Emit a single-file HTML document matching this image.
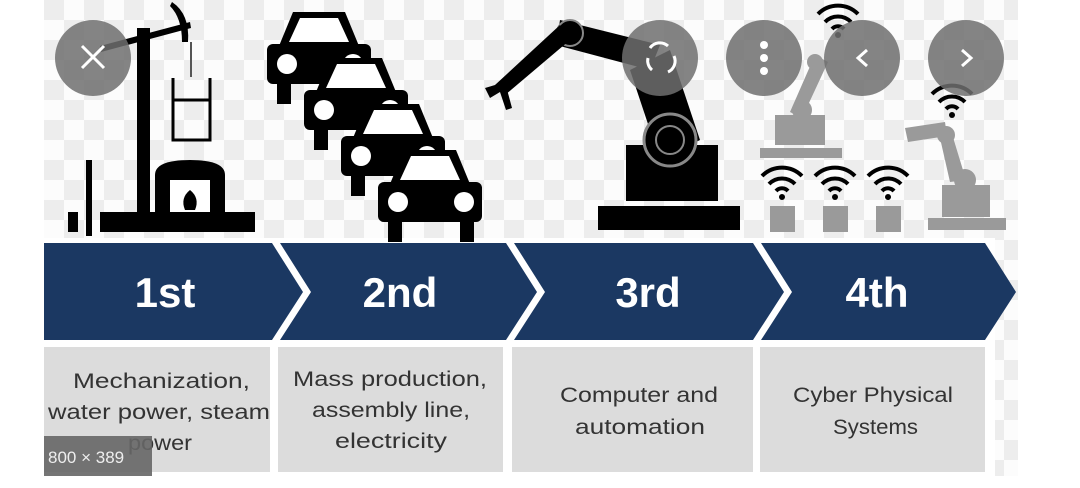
<!DOCTYPE html>
<html><head><meta charset="utf-8"><style>
html,body{margin:0;padding:0;background:#fff;width:1080px;height:488px;overflow:hidden}
svg{display:block}
text{font-family:"Liberation Sans",sans-serif}
</style></head><body>
<svg width="1080" height="488" viewBox="0 0 1080 488" xmlns="http://www.w3.org/2000/svg">
<defs>
<pattern id="chk" x="44" y="0" width="40" height="40" patternUnits="userSpaceOnUse">
<rect width="40" height="40" fill="#fcfcfc"/><rect width="20" height="20" fill="#ededed"/><rect x="20" y="20" width="20" height="20" fill="#ededed"/>
</pattern>
<g id="car">
<path d="M12 0 H64 L78 34 H-2 Z" fill="#000"/>
<path d="M19 6 H57 L68 30 H8 Z" fill="#fff"/>
<rect x="-14" y="32" width="104" height="40" rx="6" fill="#000"/>
<circle cx="6" cy="52" r="10" fill="#fff"/><circle cx="72" cy="52" r="10" fill="#fff"/>
<rect x="-4" y="70" width="14" height="22" fill="#000"/><rect x="68" y="70" width="14" height="22" fill="#000"/>
</g>
<g id="wifi" fill="none" stroke="#000" stroke-width="4">
<path d="M-20 -6 A28 28 0 0 1 20 -6"/><path d="M-13 2 A18 18 0 0 1 13 2"/><path d="M-6 9 A8 8 0 0 1 6 9"/>
<circle cx="0" cy="15" r="3" fill="#000" stroke="none"/>
</g>
</defs>
<rect x="44" y="0" width="974" height="238" fill="url(#chk)"/>
<rect x="995" y="238" width="23" height="238" fill="url(#chk)"/>

<!-- 1st icon -->
<rect x="68" y="212" width="10" height="20" fill="#000"/>
<rect x="86" y="160" width="6" height="76" fill="#000"/>
<rect x="100" y="212" width="155" height="20" fill="#000"/>
<rect x="137" y="28" width="13" height="186" fill="#000"/>
<path d="M100 46 L190 22 L191 28 L101 52 Z" fill="#000"/>
<path d="M172 2 Q190 14 188 42 L182 42 Q182 18 170 6 Z" fill="#000"/>
<rect x="190" y="42" width="2" height="35" fill="#555"/>
<path d="M173 78 V140 H210 V78 M173 100 H210" fill="none" stroke="#000" stroke-width="3"/>
<path d="M155 212 V175 Q155 160 190 160 Q225 160 225 175 V212 Z" fill="#000"/>
<rect x="170" y="180" width="40" height="32" fill="#fff"/>
<path d="M185 210 Q180 198 190 190 Q200 198 195 210 Z" fill="#000"/>

<!-- cars -->
<use href="#car" x="281" y="12"/>
<use href="#car" x="318" y="58"/>
<use href="#car" x="355" y="104"/>
<use href="#car" x="392" y="150"/>

<!-- 3rd robot -->
<rect x="598" y="206" width="142" height="24" fill="#000"/>
<rect x="626" y="145" width="92" height="56" fill="#000"/>
<path d="M630 70 L670 50 L700 140 L660 160 Z" fill="#000"/>
<circle cx="670" cy="140" r="26" fill="#000" stroke="#888" stroke-width="3"/>
<circle cx="670" cy="140" r="14" fill="#000" stroke="#888" stroke-width="2"/>
<path d="M560 20 L660 45 L650 70 L556 45 Z" fill="#000"/>
<circle cx="570" cy="33" r="13" fill="#000" stroke="#888" stroke-width="2"/>
<path d="M560 25 L495 85 L505 95 L570 40 Z" fill="#000"/>
<path d="M485 88 L505 82 L512 108 L506 110 L500 92 L490 98 Z" fill="#000"/>

<!-- gray robots -->
<g fill="#9a9a9a">
<rect x="760" y="148" width="82" height="10"/>
<rect x="775" y="115" width="50" height="30"/>
<path d="M790 112 L815 55 L828 62 L802 118 Z"/>
<circle cx="802" cy="110" r="10"/><circle cx="815" cy="62" r="8"/>
<rect x="770" y="206" width="25" height="26"/><rect x="823" y="206" width="25" height="26"/><rect x="876" y="206" width="25" height="26"/>
<rect x="928" y="218" width="78" height="12"/>
<rect x="942" y="185" width="48" height="32"/>
<path d="M950 182 L940 138 L952 134 L966 180 Z"/>
<path d="M905 128 L945 122 L947 136 L908 142 Z"/>
<circle cx="965" cy="180" r="11"/><circle cx="946" cy="135" r="9"/>
</g>
<use href="#wifi" x="782" y="182"/>
<use href="#wifi" x="835" y="182"/>
<use href="#wifi" x="888" y="182"/>
<use href="#wifi" x="838" y="20"/>
<use href="#wifi" x="952" y="100"/>

<!-- overlay circles -->
<g fill="#6e6e6e" fill-opacity="0.85">
<circle cx="93" cy="58" r="38"/><circle cx="660" cy="58" r="38"/><circle cx="764" cy="58" r="38"/><circle cx="862" cy="58" r="38"/><circle cx="966" cy="58" r="38"/>
</g>
<path d="M82 46 L104 68 M104 46 L82 68" stroke="#fff" stroke-width="3"/>
<g fill="#fff"><circle cx="764" cy="45" r="4"/><circle cx="764" cy="58" r="4"/><circle cx="764" cy="71" r="4"/></g>
<path d="M867 50 L858 58 L867 66" stroke="#fff" stroke-width="3" fill="none"/>
<path d="M962 50 L971 58 L962 66" stroke="#fff" stroke-width="3" fill="none"/>
<path d="M650 48 A12 12 0 0 1 668 46 M674 56 A12 12 0 0 1 668 72 M652 70 A12 12 0 0 1 648 58" stroke="#fff" stroke-width="3" fill="none"/>

<!-- chevrons -->
<g fill="#1b3862">
<path d="M44 243 H272 L303 292 L272 340 H44 Z"/>
<path d="M280 243 H506 L537 292 L506 340 H280 L311 292 Z"/>
<path d="M514 243 H753 L784 292 L753 340 H514 L545 292 Z"/>
<path d="M761 243 H985 L1016 292 L985 340 H761 L792 292 Z"/>
</g>
<g fill="#fff" font-weight="bold" font-size="42" text-anchor="middle">
<text x="165" y="307">1st</text><text x="400" y="307">2nd</text><text x="648" y="307">3rd</text><text x="877" y="307">4th</text>
</g>

<!-- boxes -->
<g fill="#dcdcdc">
<rect x="44" y="347" width="226" height="125"/><rect x="278" y="347" width="225" height="125"/><rect x="512" y="347" width="241" height="125"/><rect x="760" y="347" width="225" height="125"/>
</g>
<g fill="#333" font-size="21" lengthAdjust="spacingAndGlyphs">
<text x="73" y="388" textLength="177" lengthAdjust="spacingAndGlyphs">Mechanization,</text>
<text x="48" y="419" textLength="222" lengthAdjust="spacingAndGlyphs">water power, steam</text>
<text x="128" y="450" textLength="64" lengthAdjust="spacingAndGlyphs">power</text>
<text x="293" y="386" textLength="194" lengthAdjust="spacingAndGlyphs">Mass production,</text>
<text x="312" y="417" textLength="158" lengthAdjust="spacingAndGlyphs">assembly line,</text>
<text x="335" y="448" textLength="112" lengthAdjust="spacingAndGlyphs">electricity</text>
<text x="560" y="402" textLength="158" lengthAdjust="spacingAndGlyphs">Computer and</text>
<text x="575" y="434" textLength="130" lengthAdjust="spacingAndGlyphs">automation</text>
<text x="793" y="402" textLength="160" lengthAdjust="spacingAndGlyphs">Cyber Physical</text>
<text x="833" y="434" textLength="85" lengthAdjust="spacingAndGlyphs">Systems</text>
</g>
<rect x="44" y="436" width="108" height="40" fill="#666" fill-opacity="0.9"/>
<text x="48" y="463" fill="#eee" font-size="17">800 × 389</text>
</svg>
</body></html>
